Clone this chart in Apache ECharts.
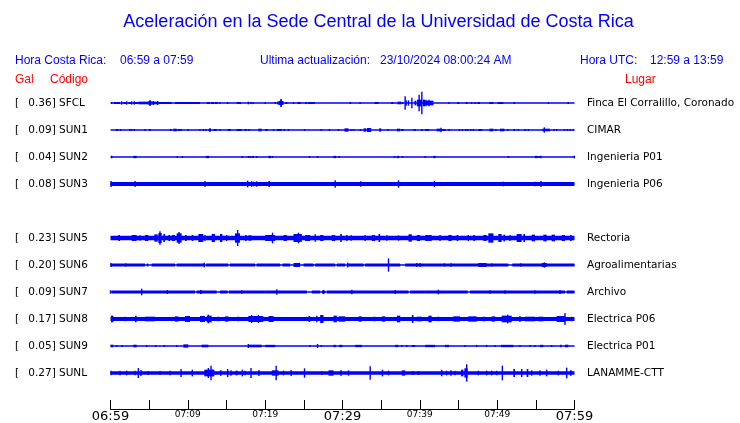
<!DOCTYPE html>
<html><head><meta charset="utf-8">
<script src="https://cdn.jsdelivr.net/npm/echarts@6/dist/echarts.min.js"></script>
<style>html,body{margin:0;padding:0;background:#fff}#c{width:740px;height:423px}</style>
</head><body><div id="c"></div>
<script>
// ---- data ----
const stations = ['SFCL','SUN1','SUN2','SUN3','','SUN5','SUN6','SUN7','SUN8','SUN9','SUNL'];
const galValues = ['0.36','0.09','0.04','0.08','','0.23','0.20','0.09','0.17','0.05','0.27'];
const places = ['Finca El Corralillo, Coronado','CIMAR','Ingenieria P01','Ingenieria P06','','Rectoria','Agroalimentarias','Archivo','Electrica P06','Electrica P01','LANAMME-CTT'];
const tickMinutes = [0,10,20,30,40,50,60];
const tickLabels = ['06:59','07:09','07:19','07:29','07:39','07:49','07:59'];
const majorLabels = ['06:59','07:29','07:59'];
// trace envelopes: [start minute, end minute, half amplitude (relative units)]
const traceSFCL = [[0,60,2.6],[0.15,0.15,3],[0.45,1.23,3],[1.44,1.44,5],[1.66,2.09,3],[2.09,2.22,5],[2.31,2.74,3],[2.74,2.74,5],[2.95,3.6,3],[3.08,3.08,5],[3.6,4.89,4],[4.89,5.32,6],[5.11,5.11,9],[5.32,6.19,4],[5.54,5.54,6],[6.1,6.1,6],[6.19,7.91,3],[8.34,11.57,3],[12.44,12.87,3],[13,13.43,3],[13.51,13.86,3],[14.16,14.16,3],[15.15,15.15,3],[16.31,16.88,3],[17.82,17.82,4],[18.04,18.25,3],[18.47,18.47,3],
[20,20.13,3],[21.29,21.29,3],[21.51,21.72,4],[21.72,22.37,6],[21.94,22.16,12],[22.59,22.89,3],[23.66,23.66,3],[24.18,24.61,3],[25.17,25.39,3],[25.52,26.25,3],[26.34,26.34,3],[30.91,31.12,3],[32.28,32.41,3],[34.14,34.66,3],[36.29,36.59,3],[37.11,37.59,4],[37.76,37.89,3],[38.1,38.1,20],[38.23,38.23,8],[38.53,38.53,8],[38.97,39.09,16],[39.31,39.53,7],[39.61,40.26,10],[39.91,39.91,25],[40.26,40.39,34],[40.39,40.69,10],
[40.69,41.75,7],[40.8,40.8,10],[41.19,41.19,10],[43.77,43.77,3],[44.85,45.11,3],[45.93,46.19,3],[46.7,46.7,3],[47.14,47.14,3],[47.44,47.78,3],[48.99,49.51,3],[50.07,50.8,3],[52.09,52.31,3],[56.62,56.62,3],[59.08,59.29,3]];
const traceSUN1 = [[0,60,2.6],[0.71,1.01,3],[1.31,1.31,3],[2.52,2.52,3],[2.74,2.74,3],[3.08,3.08,3],[4.46,4.46,3],[4.98,5.24,3],[7.69,7.91,3],[8.13,8.56,4],[8.69,9.2,3],[10.06,10.06,3],[11.57,11.57,3],[12,12,3],[12.35,12.35,3],[12.65,13,3],[12.87,12.87,6],[13.3,13.73,3],[14.16,14.16,3],[15.15,15.58,3],[16.31,16.96,3],[17.31,17.61,3],[17.91,17.91,3],[19.12,19.55,4],
[20,20.34,3],[21.08,21.08,3],[21.51,22.16,3],[22.5,22.5,3],[23.02,23.02,3],[25.09,25.26,3],[27.24,27.24,3],[28.32,28.32,3],[29.48,29.48,3],[30.26,30.78,5],[31.12,31.12,3],[31.42,31.42,3],[32.2,32.41,3],[32.72,33.06,5],[33.15,33.71,6],[34.74,35,5],[35.86,35.86,3],[37.03,37.46,4],[37.59,37.89,3],[39.18,39.48,3],[40.26,40.26,3],
[40.69,41.19,3],[42.18,42.7,4],[42.74,42.74,7],[42.83,43.34,3],[43.69,43.9,3],[45.11,45.11,3],[45.5,45.5,3],[45.93,45.93,3],[46.19,46.19,3],[46.57,46.57,3],[46.92,46.92,3],[47.57,48.08,3],[48.99,49.51,4],[49.72,49.94,3],[50.37,50.93,4],[51.36,51.36,3],[52.09,52.31,3],[52.74,52.74,3],[53.6,53.6,3],[54.03,54.03,3],[55.84,56.27,4],[56.1,56.1,8],[56.27,56.83,4],[57.35,57.35,3],[57.7,57.7,3],[58.69,58.69,3],[59.08,59.08,3],[59.42,59.42,3],[59.85,59.85,3]];
const traceSUN2 = [[0,60,2.6],[0.15,0.15,4],[2.95,3.38,3.5],[8.64,8.64,3],[9.29,9.29,3],[12.35,12.74,3.5],[17.05,17.05,3],[17.82,17.82,3],[18.04,18.04,3],[18.25,18.56,3],[18.9,18.9,3],
[20.43,20.78,3.5],[20.95,21.12,3],[25.73,25.73,3],[26.77,26.77,3],[28.84,29.18,3.5],[29.57,29.57,3],[36.72,36.72,3],[37.03,37.33,3.5],[37.76,37.76,3],
[40.69,40.8,3],[41.75,42.05,3.5],[51.45,51.45,3],[54.89,55.24,3.5],[55.33,55.54,3],[55.67,55.84,3.5],[59.98,59.98,4]];
const traceSUN3 = [[0,60,6],[0.07,0.07,9],[3.17,3.17,9],[12.22,12.35,9],[17.74,17.82,10],[18.25,18.25,8],[18.47,18.47,7],[18.9,18.9,8],
[20.52,20.52,9],[29.05,29.14,11],[32.37,32.37,8],[37.24,37.24,11],
[41.88,41.88,9],[50.8,50.8,7],[54.89,54.89,7],[55.67,55.67,9]];
const traceSUN5 = [[0,60,7],[1.01,1.23,9],[2.74,3.38,9],[3.81,3.81,8],[4.46,4.89,9],[5.67,6.1,11],[6.19,6.62,15],[6.4,6.4,20],[6.83,7.05,12],[7.48,7.69,9],[7.91,8.34,9],[8.56,9.2,14],[8.86,8.86,18],[9.63,9.85,9],[10.5,10.71,9],[11.36,12,12],[12.22,12.22,9],[13.08,13.51,12],[14.16,14.46,12],[15.02,15.02,9],[16.1,16.74,14],[16.44,16.44,24],[17.39,17.61,9],[17.82,18.25,8],
[20,21.29,9],[20.95,20.95,16],[22.37,22.8,9],[23.66,24.74,12],[24.31,24.31,16],[25.17,25.82,9],[26.47,26.47,11],[27.11,27.54,9],[28.62,29.05,9],[29.7,29.91,12],[30.56,30.56,9],[31.12,31.12,8],[32.93,32.93,9],[33.79,34.22,9],[34.66,34.87,12],[35.73,35.73,8],[37.24,37.24,8],[38.53,38.97,11],[39.61,40.04,9],
[40.69,41.53,9],[42.61,42.61,9],[43.69,44.12,9],[44.76,44.98,9],[46.27,46.27,9],[46.92,47.14,9],[48.21,48.64,9],[48.86,49.51,14],[50.15,50.58,12],[50.8,51.02,10],[51.66,51.66,9],[52.52,53.17,12],[53.39,53.6,12],[54.46,54.89,10],[55.97,56.4,10],[57.05,57.48,10],[58.34,58.77,9],[59.42,59.64,9]];
const traceSUN6 = [[0,60,2.6],[0,4.46,4.5],[4.68,4.89,4.5],[5.32,8.34,4.5],[8.56,12.13,4.5],[12.35,15.24,4.5],[15.45,18.69,4.5],[18.9,20,4.5],[0.07,0.07,6],[1.96,1.96,5],[12.13,12.13,7],
[20,21.94,4.5],[22.24,23.23,4.5],[23.66,24.53,6],[24.96,26.25,4.5],[26.47,29.05,4.5],[29.27,30.34,4.5],[30.56,30.78,7],[30.78,32.72,4.5],[32.93,37.46,4.5],[35.95,35.95,20],[38.1,40.69,4.5],[39.61,39.61,6],[40.04,40.04,6],
[40.69,51.45,4.5],[51.96,60,4.5],[43.17,43.17,5],[44.03,44.03,5],[47.57,48.64,6],[49.29,49.29,5],[53.04,53.04,5],[55.76,56.4,6],[56.1,56.1,8]];
const traceSUN7 = [[0,60,2.6],[0,0,5],[0.15,10.93,4.5],[11.14,13.73,4.5],[14.16,15.15,4.5],[15.32,20,4.5],[4.03,4.03,10],[7.35,7.35,6],[11.57,11.79,6],[16.96,16.96,5],
[20,25.39,4.5],[21.51,21.51,8],[26.03,27.11,4.5],[27.33,27.76,4.5],[27.54,27.54,6],[27.97,38.53,4.5],[31.21,31.21,7],[36.81,36.81,6],[38.75,40.69,4.5],
[40.69,46.19,4.5],[42.39,42.39,7],[46.49,58.77,4.5],[49.07,49.07,5],[51.02,51.02,5],[54.89,54.89,5],[58.13,58.13,6],[58.99,60,4.5]];
const traceSUN8 = [[0,60,6],[0.07,0.37,10],[1.88,1.88,7],[3.17,3.38,10],[4.46,5.75,7],[8.34,8.77,8],[9.63,10.28,9],[11.57,12.22,9],[12.44,13.08,10],[12.65,12.65,13],[13.94,13.94,7],[14.81,15.24,8],[16.53,16.53,7],[17.82,19.76,9],[18.25,18.25,12],[19.12,19.12,12],
[20.43,21.08,9],[25.6,25.82,9],[26.68,26.68,10],[27.11,27.54,12],[28.84,29.27,10],[29.48,30.34,8],[32.07,32.5,8],[34.01,34.22,7],[35.09,35.52,8],[37.03,37.46,10],[38.97,39.18,12],[39.61,40.26,7],
[41.1,41.53,10],[42.39,42.39,7],[44.33,45.2,8],[46.27,47.35,8],[48.21,48.43,7],[49.29,49.72,8],[50.58,51.88,10],[51.36,51.36,13],[52.95,52.95,9],[53.6,54.89,7],[55.33,55.97,7],[57.7,58.77,9],[58.77,58.77,18],[59.64,59.64,7]];
const traceSUN9 = [[0,60,2.6],[0,0.37,4],[0.8,0.8,3],[1.53,1.53,3],[2.95,3.38,4],[4.68,4.68,3],[5.84,5.84,3],[6.96,6.96,3],[8.56,8.56,3],[9.42,10.06,5],[11.79,12.65,4],[17.82,19.55,4],[17.82,17.82,6],
[20,21.29,3.5],[25.82,25.82,3],[26.77,26.77,6],[27.24,27.24,3],[28.84,29.14,3.5],[29.57,30,3.5],[31.64,32.5,3.5],[36.81,37.24,3.5],[37.67,37.67,3],[38.32,38.32,3],[38.97,39.39,3],
[40.69,41.96,3.5],[43.26,43.77,3.5],[45.84,45.84,3],[47.35,47.35,3],[48.64,48.64,3],[49.72,49.72,3],[50.5,52.09,3.5],[52.95,52.95,3],[54.25,54.25,3],[54.89,54.89,3],[55.54,55.97,3.5],[57.05,57.05,3],[58.13,58.34,3.5],[58.77,59.2,4]];
const traceSUNL = [[0,60,5],[0.07,0.24,7],[1.23,1.23,7],[2.09,2.09,7],[3.17,3.17,7],[3.6,3.6,15],[3.94,3.94,9],[4.89,4.89,6],[6.4,6.4,6],[7.69,7.69,7],[9.12,9.29,12],[10.58,10.58,10],[12.13,13.43,10],[12.65,12.65,15],[13,13,22],[13.17,13.17,10],[14.16,14.37,8],[15.15,15.15,12],[15.58,15.58,8],[16.19,16.44,7],[17.05,17.05,10],[17.39,17.39,7],[18.17,18.17,15],[19.2,19.2,9],
[20.86,21.72,8],[21.42,21.42,22],[22.37,22.37,7],[23.36,23.36,9],[25.09,25.09,14],[27.33,27.33,6],[28.19,28.84,8],[29.7,29.91,8],[30.78,30.78,8],[33.58,33.71,20],[35.17,35.17,10],[35.95,35.95,7],[37.67,38.1,8],[38.97,39.18,6],[39.83,39.83,6],
[42.83,42.83,10],[43.47,43.47,7],[44.03,44.03,8],[44.55,44.55,7],[45.33,45.63,10],[45.76,46.19,14],[46.06,46.06,26],[47.57,47.57,7],[48.64,48.64,7],[49.29,49.29,7],[49.94,49.94,7],[50.67,50.8,22],[52.09,52.31,12],[53.17,53.17,12],[53.82,54.03,12],[54.46,54.46,8],[55.54,55.54,8],[56.4,56.4,10],[57.91,57.91,7],[58.99,59.08,16],[59.42,59.64,8]];
const traces = [traceSFCL, traceSUN1, traceSUN2, traceSUN3, null, traceSUN5, traceSUN6, traceSUN7, traceSUN8, traceSUN9, traceSUNL];

// ---- chart ----
const BLUE = '#0000ff';
const AMP_PER_ROW = 81; // relative amplitude units per row spacing
const chart = echarts.init(document.getElementById('c'), null, {renderer: 'canvas'});

const series = [];
traces.forEach((tr, row) => {
  if (!tr) return;
  series.push({
    type: 'custom', name: stations[row], data: tr, clip: false,
    encode: {x: [0, 1]},
    renderItem: (params, api) => {
      const t0 = api.value(0), t1 = api.value(1), a = api.value(2);
      const p0 = api.coord([t0, row]);
      const p1 = api.coord([t1, row]);
      const band = api.size([0, 1])[1];
      const h = a / AMP_PER_ROW * band;
      let x = p0[0], w = p1[0] - p0[0];
      if (w < 1.4) { x = p0[0] - 0.7; w = 1.4; }
      return {type: 'rect', shape: {x: x, y: p0[1] - h, width: w, height: 2 * h}, style: {fill: BLUE}};
    }
  });
});

const hdr = (x, y, text, color, align) => ({
  type: 'text', x: x, y: y,
  style: {text: text, fill: color, font: '12px "Liberation Sans", Arial, sans-serif', textAlign: align || 'left', textVerticalAlign: 'middle'}
});

chart.setOption({
  animation: false,
  backgroundColor: '#fff',
  grid: {left: 110.5, right: 165.5, top: 89.5, height: 297},
  xAxis: {
    type: 'value', min: 0, max: 60, interval: 5, position: 'bottom', offset: 22.5,
    axisLine: {show: true, onZero: false, lineStyle: {color: '#000', width: 1}},
    axisTick: {show: true, inside: true, length: 9, lineStyle: {color: '#000', width: 1}},
    splitLine: {show: false},
    axisLabel: {
      margin: 1, verticalAlign: 'top', showMinLabel: true, showMaxLabel: true,
      formatter: v => {
        const i = tickMinutes.indexOf(v);
        if (i < 0) return '';
        const lab = tickLabels[i];
        return majorLabels.includes(lab) ? '{big|' + lab + '}' : '{small|' + lab + '}';
      },
      rich: {
        big: {fontFamily: 'DejaVu Sans', fontSize: 13, color: '#000', lineHeight: 13},
        small: {fontFamily: 'DejaVu Sans', fontSize: 9, color: '#000', lineHeight: 10}
      }
    }
  },
  yAxis: [{
    type: 'category', data: stations, inverse: true, position: 'left',
    axisLine: {show: false}, axisTick: {show: false}, splitLine: {show: false},
    axisLabel: {
      align: 'left', margin: 95.5, interval: 0,
      formatter: (v, i) => v ? '{b|[}{v|' + galValues[i] + ']}{c|' + v + '}' : '',
      rich: {
        b: {width: 12, fontFamily: 'DejaVu Sans', fontSize: 10.5, color: '#000'},
        v: {width: 30, align: 'right', fontFamily: 'DejaVu Sans', fontSize: 10.5, color: '#000'},
        c: {fontFamily: 'DejaVu Sans', fontSize: 10.5, color: '#000', padding: [0, 0, 0, 2]}
      }
    }
  }, {
    type: 'category', data: stations, inverse: true, position: 'right',
    axisLine: {show: false}, axisTick: {show: false}, splitLine: {show: false},
    axisLabel: {
      align: 'left', margin: 12.5, interval: 0,
      fontFamily: 'DejaVu Sans', fontSize: 10.5, color: '#000',
      formatter: (v, i) => places[i]
    }
  }],
  graphic: [
    {type: 'text', x: 378.5, y: 22, style: {text: 'Aceleración en la Sede Central de la Universidad de Costa Rica', fill: BLUE, font: '18px "Liberation Sans", Arial, sans-serif', textAlign: 'center', textVerticalAlign: 'middle'}},
    hdr(15, 60.5, 'Hora Costa Rica:', BLUE),
    hdr(120, 60.5, '06:59 a 07:59', BLUE),
    hdr(260, 60.5, 'Ultima actualización:', BLUE),
    hdr(380, 60.5, '23/10/2024 08:00:24 AM', BLUE),
    hdr(580, 60.5, 'Hora UTC:', BLUE),
    hdr(650, 60.5, '12:59 a 13:59', BLUE),
    hdr(15, 79.5, 'Gal', '#ff0000'),
    hdr(50, 79.5, 'Código', '#ff0000'),
    hdr(625, 79.5, 'Lugar', '#ff0000')
  ],
  series: series
});
</script></body></html>
